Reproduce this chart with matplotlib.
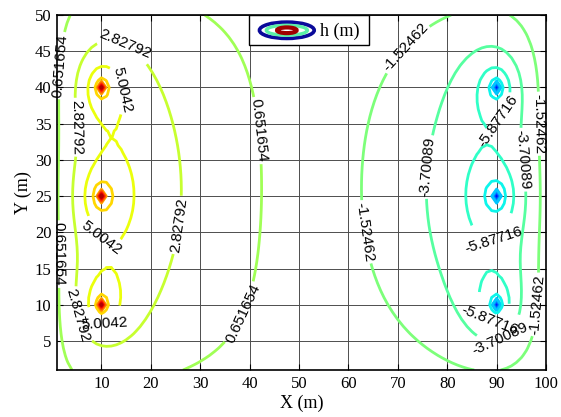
import numpy as np
import matplotlib

matplotlib.use("Agg")
import matplotlib.pyplot as plt
from matplotlib.patches import Ellipse, Rectangle

# wells: three injection wells on the left, three pumping wells on the right
WELL_X = [10, 10, 10, 90, 90, 90]
WELL_Y = [10, 25, 40, 10, 25, 40]
WELL_Q = [2.42, 2.42, 2.42, -2.579, -2.579, -2.579]
WELL_RADIUS = 0.003
# fixed-head (h = 0) edges of the aquifer
X_BOUNDS = [0.3, 101.0]
Y_BOUNDS = [-3.0, 56.0]

# contour levels h = base + k * step
LEVEL_BASE = 0.651654
LEVEL_STEP = 2.176273
LEVEL_K = list(range(-11, 10))
LABEL_K = [-3, -2, -1, 0, 1, 2]
LABEL_TEXT = ["-5.87716", "-3.70089", "-1.52462", "0.651654", "2.82792", "5.0042"]
COLOR_K = [-12, 10]  # colour scale end points

XTICKS = [10, 20, 30, 40, 50, 60, 70, 80, 90, 100]
YTICKS = [5, 10, 15, 20, 25, 30, 35, 40, 45, 50]

# where clabel puts the inline labels
LABEL_SPOTS = [
    (2.2, 43), (2.0, 17), (4.6, 34.5), (5.2, 8.5), (14, 44.8), (11.8, 39.5),
    (9.4, 19), (10.5, 8.1), (25.7, 21), (41, 34), (38, 9),
    (74, 44), (62.8, 20), (99, 35), (99, 10), (76.5, 29), (95, 30), (90.5, 5.8),
    (89, 36), (88.5, 20), (89.5, 8.7),
]


def head(x, y):
    """Steady head in a rectangular aquifer with h=0 on all four edges.

    Strip solution in x (closed form), method of images in y.
    """
    a0, a1 = X_BOUNDS
    c0, c1 = Y_BOUNDS
    a = a1 - a0
    b = c1 - c0
    eps = 0.5 * (np.pi * WELL_RADIUS / a) ** 2
    X = x - a0
    h = np.zeros_like(x, dtype=float)
    for xw, yw, q in zip(WELL_X, WELL_Y, WELL_Q):
        X0 = xw - a0
        for m in range(-3, 4):
            for yi, s in ((yw + 2 * m * b, 1.0), (2 * c0 - yw + 2 * m * b, -1.0)):
                ch = np.cosh(np.pi * (y - yi) / a)
                num = ch - np.cos(np.pi * (X + X0) / a) + eps
                den = ch - np.cos(np.pi * (X - X0) / a) + eps
                h += s * q * 0.5 * np.log(num / den)
    return h


xs = np.arange(1, 101)
ys = np.arange(1, 51)
XX, YY = np.meshgrid(xs, ys)
H = head(XX.astype(float), YY.astype(float))

levels = LEVEL_BASE + LEVEL_STEP * np.array(LEVEL_K)
plain_levels = [levels[i] for i, k in enumerate(LEVEL_K) if k not in LABEL_K]
label_levels = [levels[LEVEL_K.index(k)] for k in LABEL_K]
fmt = dict(zip(label_levels, LABEL_TEXT))
vmin = LEVEL_BASE + LEVEL_STEP * COLOR_K[0]
vmax = LEVEL_BASE + LEVEL_STEP * COLOR_K[1]

plt.rcParams["font.family"] = ["Liberation Sans", "DejaVu Sans"]
SERIF = "Liberation Serif"

fig = plt.figure(figsize=(5.61, 4.17), dpi=100)
ax = fig.add_axes([0.1016, 0.1127, 0.8717, 0.8513])

style = dict(cmap="jet", vmin=vmin, vmax=vmax, linewidths=2.0, zorder=2)
ax.contour(XX, YY, H, levels=plain_levels, **style)
cs = ax.contour(XX, YY, H, levels=label_levels, **style)
labels = ax.clabel(cs, fmt=fmt, manual=LABEL_SPOTS, inline=True, inline_spacing=2,
                   fontsize=11, colors="k")
for t in labels:
    t.set_clip_on(False)

ax.set_xlim(1, 100)
ax.set_ylim(1, 50)
ax.set_xticks(XTICKS)
ax.set_yticks(YTICKS)
ax.set_xticklabels([str(t) for t in XTICKS], fontfamily=SERIF, fontsize=12)
ax.set_yticklabels([str(t) for t in YTICKS], fontfamily=SERIF, fontsize=12)
ax.tick_params(direction="in", top=True, right=True, length=4, width=0.8, pad=4)
ax.grid(True, color="0.3", linewidth=0.7)
ax.set_axisbelow(True)
for sp in ax.spines.values():
    sp.set_linewidth(1.2)
ax.set_xlabel("X (m)", fontfamily=SERIF, fontsize=13, labelpad=2)
ax.set_ylabel("Y (m)", fontfamily=SERIF, fontsize=13, labelpad=2)

# legend box with a small contour icon
ax.add_patch(Rectangle((0.393, 0.9155), 0.245, 0.0845, transform=ax.transAxes,
                       facecolor="white", edgecolor="black", linewidth=1.0, zorder=5))
icon = [(0.112, 0.046, "#0a0a9a", 2.6), (0.084, 0.028, "#5cf0a8", 2.4),
        (0.040, 0.016, "#a00000", 3.0)]
for w, hgt, col, lw in icon:
    ax.add_patch(Ellipse((0.470, 0.957), w, hgt, transform=ax.transAxes,
                         facecolor="none", edgecolor=col, linewidth=lw, zorder=6))
ax.text(0.538, 0.955, "h (m)", transform=ax.transAxes, fontfamily=SERIF,
        fontsize=13, va="center", ha="left", zorder=7)

fig.savefig("out.png", dpi=100)
